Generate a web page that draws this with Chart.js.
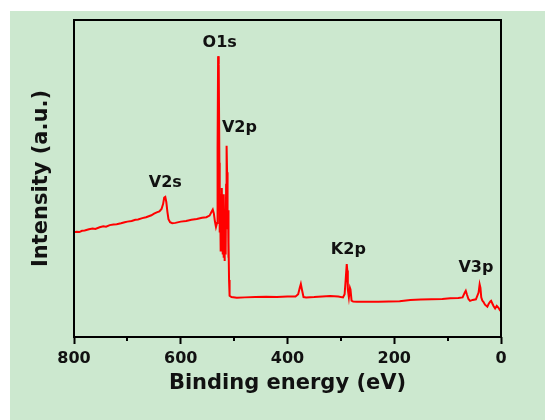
<!DOCTYPE html>
<html>
<head>
<meta charset="utf-8">
<script src="https://cdn.jsdelivr.net/npm/chart.js@4.4.1/dist/chart.umd.min.js"></script>
<style>
  body { margin: 0; background: #fff; }
  #wrap { width: 545px; height: 420px; }
</style>
</head>
<body>
<div id="wrap"><canvas id="xps" width="545" height="420"></canvas></div>
<script>
// Survey spectrum: binding energy (eV) and counts (arbitrary units)
const energy = [
    800, 795, 790, 785, 780, 772, 765, 760, 752, 745, 740, 733, 726, 720, 712, 705, 700, 692, 685, 680,
    672, 665, 660, 655, 650, 645, 640, 636, 633, 631, 629, 627, 625, 623, 620, 616, 610, 600, 590, 580,
    570, 560, 552, 546, 542, 540, 538, 536, 534, 532,
    531, 530, 529.3, 528.4, 527.6, 527, 526.4, 525.8, 525.2, 524.6, 524, 523.4, 522.8, 522.2, 521.6, 521, 520.4, 519.8, 519.2, 518.6,
    518, 517.4, 516.8, 516.2, 515.6, 515, 514.4, 513.8, 513.2, 512.6, 512, 511.4, 510.8, 510.2, 509.5, 508.5, 505, 495, 480, 460,
    440, 420, 400, 385, 380, 377, 375, 373, 370, 365, 350, 335, 320, 305, 296, 293, 291, 289, 288, 287,
    285, 283, 282, 280, 277, 270, 250, 230, 210, 190, 170, 150, 130, 110, 95, 80, 72, 68, 66, 64,
    61, 58, 53, 47, 42, 40, 38.5, 37, 35, 33, 30, 27, 25.6, 23, 20, 18.5, 16, 14, 11, 8,
    5, 2, 0
];
const intensity = [
    33.0, 33.2, 33.1, 33.5, 33.6, 34.0, 34.2, 34.1, 34.6, 34.9, 34.8, 35.3, 35.5, 35.6, 35.9, 36.2, 36.4, 36.6, 37.0, 37.1,
    37.5, 37.8, 38.1, 38.4, 38.9, 39.3, 39.6, 40.4, 42.0, 44.0, 44.2, 42.5, 39.5, 37.2, 36.2, 35.9, 36.0, 36.4, 36.6, 37.0,
    37.2, 37.6, 37.8, 38.3, 39.6, 40.2, 39.0, 36.5, 34.7, 36,
    60, 88.6, 88.4, 86, 55, 33, 45, 30, 40, 27, 36, 29, 47, 31, 42, 26, 38, 25, 45, 35,
    24, 40, 28, 36, 26, 48, 56, 60.3, 52, 40, 34, 40, 25, 30, 18, 13, 12.6, 12.4, 12.5, 12.6,
    12.7, 12.6, 12.8, 12.8, 13.5, 15.5, 16.7, 15.0, 12.6, 12.5, 12.6, 12.8, 12.9, 12.8, 12.5, 13.5, 18, 23, 21, 15,
    12.5, 15.5, 15, 11.5, 11.2, 11.1, 11.1, 11.1, 11.2, 11.3, 11.7, 11.8, 11.9, 12.0, 12.2, 12.3, 12.5, 14, 14.6, 13.5,
    12, 11.4, 11.7, 11.9, 14, 16.6, 15.5, 12.5, 11.5, 11.1, 10.2, 9.8, 9.6, 10.5, 11.2, 11.4, 10.5, 9.8, 9.0, 9.8,
    9.3, 8.5, 8.7
];

// peak assignments and where their names sit (eV, intensity)
const peakNames = ['O1s', 'V2p', 'V2s', 'K2p', 'V3p'];
const peakEnergy = [527, 490, 629, 286, 47];
const peakLevel = [92.7, 65.9, 48.6, 27.4, 21.8];

const minorTicks = [700, 500, 300, 100];

const points = energy.map((e, i) => ({ x: e, y: intensity[i] }));

const labelFont = 'bold 16px "DejaVu Sans"';

const background = {
    id: 'background',
    beforeDraw(chart) {
        const ctx = chart.ctx;
        ctx.save();
        ctx.fillStyle = '#fff';
        ctx.fillRect(0, 0, chart.width, chart.height);
        ctx.fillStyle = '#cce8cf';
        ctx.fillRect(10, 11, chart.width - 10, chart.height - 11);
        ctx.restore();
    }
};

const frameAndLabels = {
    id: 'frameAndLabels',
    afterDraw(chart) {
        const { ctx, chartArea: a, scales } = chart;
        ctx.save();
        // box around the plot
        ctx.strokeStyle = '#000';
        ctx.lineWidth = 2;
        ctx.strokeRect(a.left, a.top, a.right - a.left, a.bottom - a.top);
        // short minor ticks
        minorTicks.forEach(v => {
            const px = Math.round(scales.x.getPixelForValue(v));
            ctx.beginPath();
            ctx.moveTo(px, a.bottom);
            ctx.lineTo(px, a.bottom + 4);
            ctx.stroke();
        });
        // peak names
        ctx.font = labelFont;
        ctx.fillStyle = '#111';
        ctx.textAlign = 'center';
        ctx.textBaseline = 'middle';
        peakNames.forEach((name, i) => {
            ctx.fillText(name, scales.x.getPixelForValue(peakEnergy[i]), scales.y.getPixelForValue(peakLevel[i]));
        });
        ctx.restore();
    }
};

new Chart(document.getElementById('xps'), {
    type: 'line',
    data: {
        datasets: [{
            data: points,
            borderColor: '#ff0000',
            borderWidth: 2,
            pointRadius: 0,
            tension: 0
        }]
    },
    options: {
        responsive: false,
        animation: false,
        devicePixelRatio: 1,
        layout: { padding: { left: 0, top: 20, right: 44, bottom: 0 } },
        plugins: {
            legend: { display: false },
            tooltip: { enabled: false }
        },
        scales: {
            x: {
                type: 'linear',
                reverse: true,
                min: 0,
                max: 800,
                afterFit: scale => { scale.height = 83; },
                border: { display: false },
                grid: {
                    drawOnChartArea: false,
                    drawTicks: true,
                    tickLength: 7,
                    tickWidth: 2,
                    tickColor: c => (c.tick && c.tick.value % 200 === 0) ? '#000' : 'rgba(0,0,0,0)'
                },
                ticks: {
                    stepSize: 100,
                    autoSkip: false,
                    maxRotation: 0,
                    padding: 5,
                    color: '#111',
                    font: { family: 'DejaVu Sans', size: 16, weight: 'bold' },
                    callback: v => v % 200 === 0 ? v : ''
                },
                title: {
                    display: true,
                    text: 'Binding energy (eV)',
                    color: '#111',
                    font: { family: 'DejaVu Sans', size: 21, weight: 'bold' },
                    padding: { top: 0, bottom: 24 }
                }
            },
            y: {
                min: 0,
                max: 100,
                afterFit: scale => { scale.width = 74; },
                border: { display: false },
                grid: { display: false, drawTicks: false },
                ticks: { display: false },
                title: {
                    display: true,
                    text: 'Intensity (a.u.)',
                    color: '#111',
                    font: { family: 'DejaVu Sans', size: 21, weight: 'bold' },
                    padding: { top: 29, bottom: 0 }
                }
            }
        }
    },
    plugins: [background, frameAndLabels]
});
</script>
</body>
</html>
